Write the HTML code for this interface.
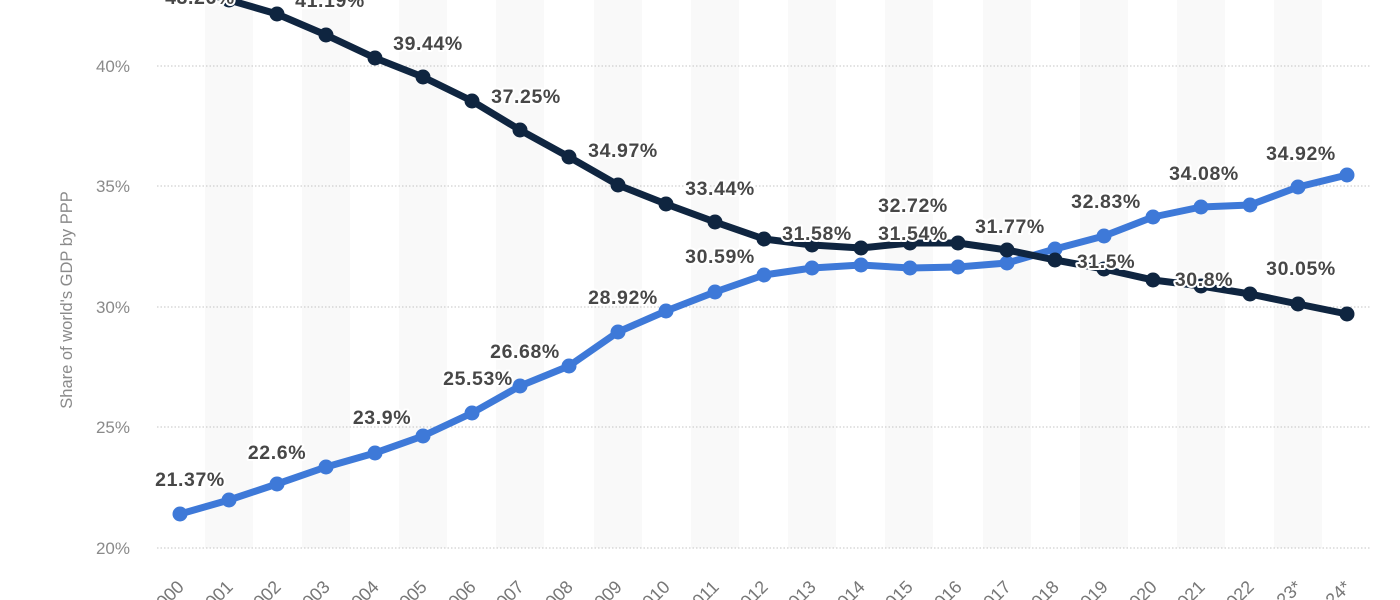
<!DOCTYPE html>
<html><head><meta charset="utf-8"><style>
html,body{margin:0;padding:0;background:#fff;}
svg{display:block;font-family:"Liberation Sans",sans-serif;}
.lbl{font-size:19.5px;font-weight:bold;fill:#474747;stroke:#fff;stroke-width:4px;paint-order:stroke;stroke-linejoin:round;text-anchor:middle;letter-spacing:0.6px}
.yt{font-size:17px;fill:#8a8a8a;text-anchor:end}
.xt{font-size:18px;fill:#777;text-anchor:end}
</style></head><body>
<svg width="1400" height="600" viewBox="0 0 1400 600">
<g fill="#f9f9f9">
<rect x="205" y="0" width="48" height="548"/><rect x="302" y="0" width="48" height="548"/><rect x="399" y="0" width="48" height="548"/><rect x="496" y="0" width="48" height="548"/><rect x="594" y="0" width="48" height="548"/><rect x="691" y="0" width="48" height="548"/><rect x="788" y="0" width="48" height="548"/><rect x="885" y="0" width="48" height="548"/><rect x="983" y="0" width="48" height="548"/><rect x="1080" y="0" width="48" height="548"/><rect x="1177" y="0" width="48" height="548"/><rect x="1274" y="0" width="48" height="548"/>
</g>
<g stroke="#c4c4c4" stroke-width="1" stroke-dasharray="1.5,2">
<line x1="157" y1="66" x2="1370" y2="66"/><line x1="157" y1="186" x2="1370" y2="186"/><line x1="157" y1="307" x2="1370" y2="307"/><line x1="157" y1="427" x2="1370" y2="427"/><line x1="157" y1="548" x2="1370" y2="548"/>
</g>
<g class="yt"><text x="130" y="72">40%</text><text x="130" y="192">35%</text><text x="130" y="313">30%</text><text x="130" y="433">25%</text><text x="130" y="554">20%</text></g>
<text transform="translate(72,300) rotate(-90)" style="font-size:16.5px;fill:#8a8a8a;text-anchor:middle">Share of world's GDP by PPP</text>
<g class="xt">
<text transform="translate(185,588) rotate(-45)">2000</text><text transform="translate(234,588) rotate(-45)">2001</text><text transform="translate(282,588) rotate(-45)">2002</text><text transform="translate(331,588) rotate(-45)">2003</text><text transform="translate(380,588) rotate(-45)">2004</text><text transform="translate(428,588) rotate(-45)">2005</text><text transform="translate(477,588) rotate(-45)">2006</text><text transform="translate(525,588) rotate(-45)">2007</text><text transform="translate(574,588) rotate(-45)">2008</text><text transform="translate(623,588) rotate(-45)">2009</text><text transform="translate(671,588) rotate(-45)">2010</text><text transform="translate(720,588) rotate(-45)">2011</text><text transform="translate(769,588) rotate(-45)">2012</text><text transform="translate(817,588) rotate(-45)">2013</text><text transform="translate(866,588) rotate(-45)">2014</text><text transform="translate(914,588) rotate(-45)">2015</text><text transform="translate(963,588) rotate(-45)">2016</text><text transform="translate(1012,588) rotate(-45)">2017</text><text transform="translate(1060,588) rotate(-45)">2018</text><text transform="translate(1109,588) rotate(-45)">2019</text><text transform="translate(1158,588) rotate(-45)">2020</text><text transform="translate(1206,588) rotate(-45)">2021</text><text transform="translate(1255,588) rotate(-45)">2022</text><text transform="translate(1303,588) rotate(-45)">2023*</text><text transform="translate(1352,588) rotate(-45)">2024*</text>
</g>
<polyline fill="none" stroke="#3e79d8" stroke-width="7" stroke-linejoin="round" points="180,514 229,500 277,484 326,467 375,453 423,436 472,413 520,386 569,366 618,332 666,311 715,292 764,275 812,268 861,265 910,268 958,267 1007,263 1055,249 1104,236 1153,217 1201,207 1250,205 1298,187 1347,175"/>
<g fill="#3e79d8"><circle cx="180" cy="514" r="7.5"/><circle cx="229" cy="500" r="7.5"/><circle cx="277" cy="484" r="7.5"/><circle cx="326" cy="467" r="7.5"/><circle cx="375" cy="453" r="7.5"/><circle cx="423" cy="436" r="7.5"/><circle cx="472" cy="413" r="7.5"/><circle cx="520" cy="386" r="7.5"/><circle cx="569" cy="366" r="7.5"/><circle cx="618" cy="332" r="7.5"/><circle cx="666" cy="311" r="7.5"/><circle cx="715" cy="292" r="7.5"/><circle cx="764" cy="275" r="7.5"/><circle cx="812" cy="268" r="7.5"/><circle cx="861" cy="265" r="7.5"/><circle cx="910" cy="268" r="7.5"/><circle cx="958" cy="267" r="7.5"/><circle cx="1007" cy="263" r="7.5"/><circle cx="1055" cy="249" r="7.5"/><circle cx="1104" cy="236" r="7.5"/><circle cx="1153" cy="217" r="7.5"/><circle cx="1201" cy="207" r="7.5"/><circle cx="1250" cy="205" r="7.5"/><circle cx="1298" cy="187" r="7.5"/><circle cx="1347" cy="175" r="7.5"/></g>
<polyline fill="none" stroke="#0f2540" stroke-width="7" stroke-linejoin="round" points="180,-13 229,0 277,14 326,35 375,58 423,77 472,101 520,130 569,157 618,185 666,204 715,222 764,239 812,245 861,248 910,243 958,243 1007,250 1055,260 1104,269 1153,280 1201,286 1250,294 1298,304 1347,314"/>
<g fill="#0f2540"><circle cx="229" cy="0" r="7.5"/><circle cx="277" cy="14" r="7.5"/><circle cx="326" cy="35" r="7.5"/><circle cx="375" cy="58" r="7.5"/><circle cx="423" cy="77" r="7.5"/><circle cx="472" cy="101" r="7.5"/><circle cx="520" cy="130" r="7.5"/><circle cx="569" cy="157" r="7.5"/><circle cx="618" cy="185" r="7.5"/><circle cx="666" cy="204" r="7.5"/><circle cx="715" cy="222" r="7.5"/><circle cx="764" cy="239" r="7.5"/><circle cx="812" cy="245" r="7.5"/><circle cx="861" cy="248" r="7.5"/><circle cx="910" cy="243" r="7.5"/><circle cx="958" cy="243" r="7.5"/><circle cx="1007" cy="250" r="7.5"/><circle cx="1055" cy="260" r="7.5"/><circle cx="1104" cy="269" r="7.5"/><circle cx="1153" cy="280" r="7.5"/><circle cx="1201" cy="286" r="7.5"/><circle cx="1250" cy="294" r="7.5"/><circle cx="1298" cy="304" r="7.5"/><circle cx="1347" cy="314" r="7.5"/></g>
<g class="lbl">
<text x="200" y="4">43.26%</text><text x="330" y="7">41.19%</text><text x="428" y="50">39.44%</text><text x="526" y="103">37.25%</text><text x="623" y="157">34.97%</text><text x="720" y="195">33.44%</text><text x="817" y="240">31.58%</text><text x="913" y="212">32.72%</text><text x="1010" y="233">31.77%</text><text x="1106" y="268">31.5%</text><text x="1204" y="286">30.8%</text><text x="1301" y="275">30.05%</text>
<text x="190" y="486">21.37%</text><text x="277" y="459">22.6%</text><text x="382" y="424">23.9%</text><text x="478" y="385">25.53%</text><text x="525" y="358">26.68%</text><text x="623" y="304">28.92%</text><text x="720" y="263">30.59%</text><text x="913" y="240">31.54%</text><text x="1106" y="208">32.83%</text><text x="1204" y="180">34.08%</text><text x="1301" y="160">34.92%</text>
</g>
</svg>
</body></html>
